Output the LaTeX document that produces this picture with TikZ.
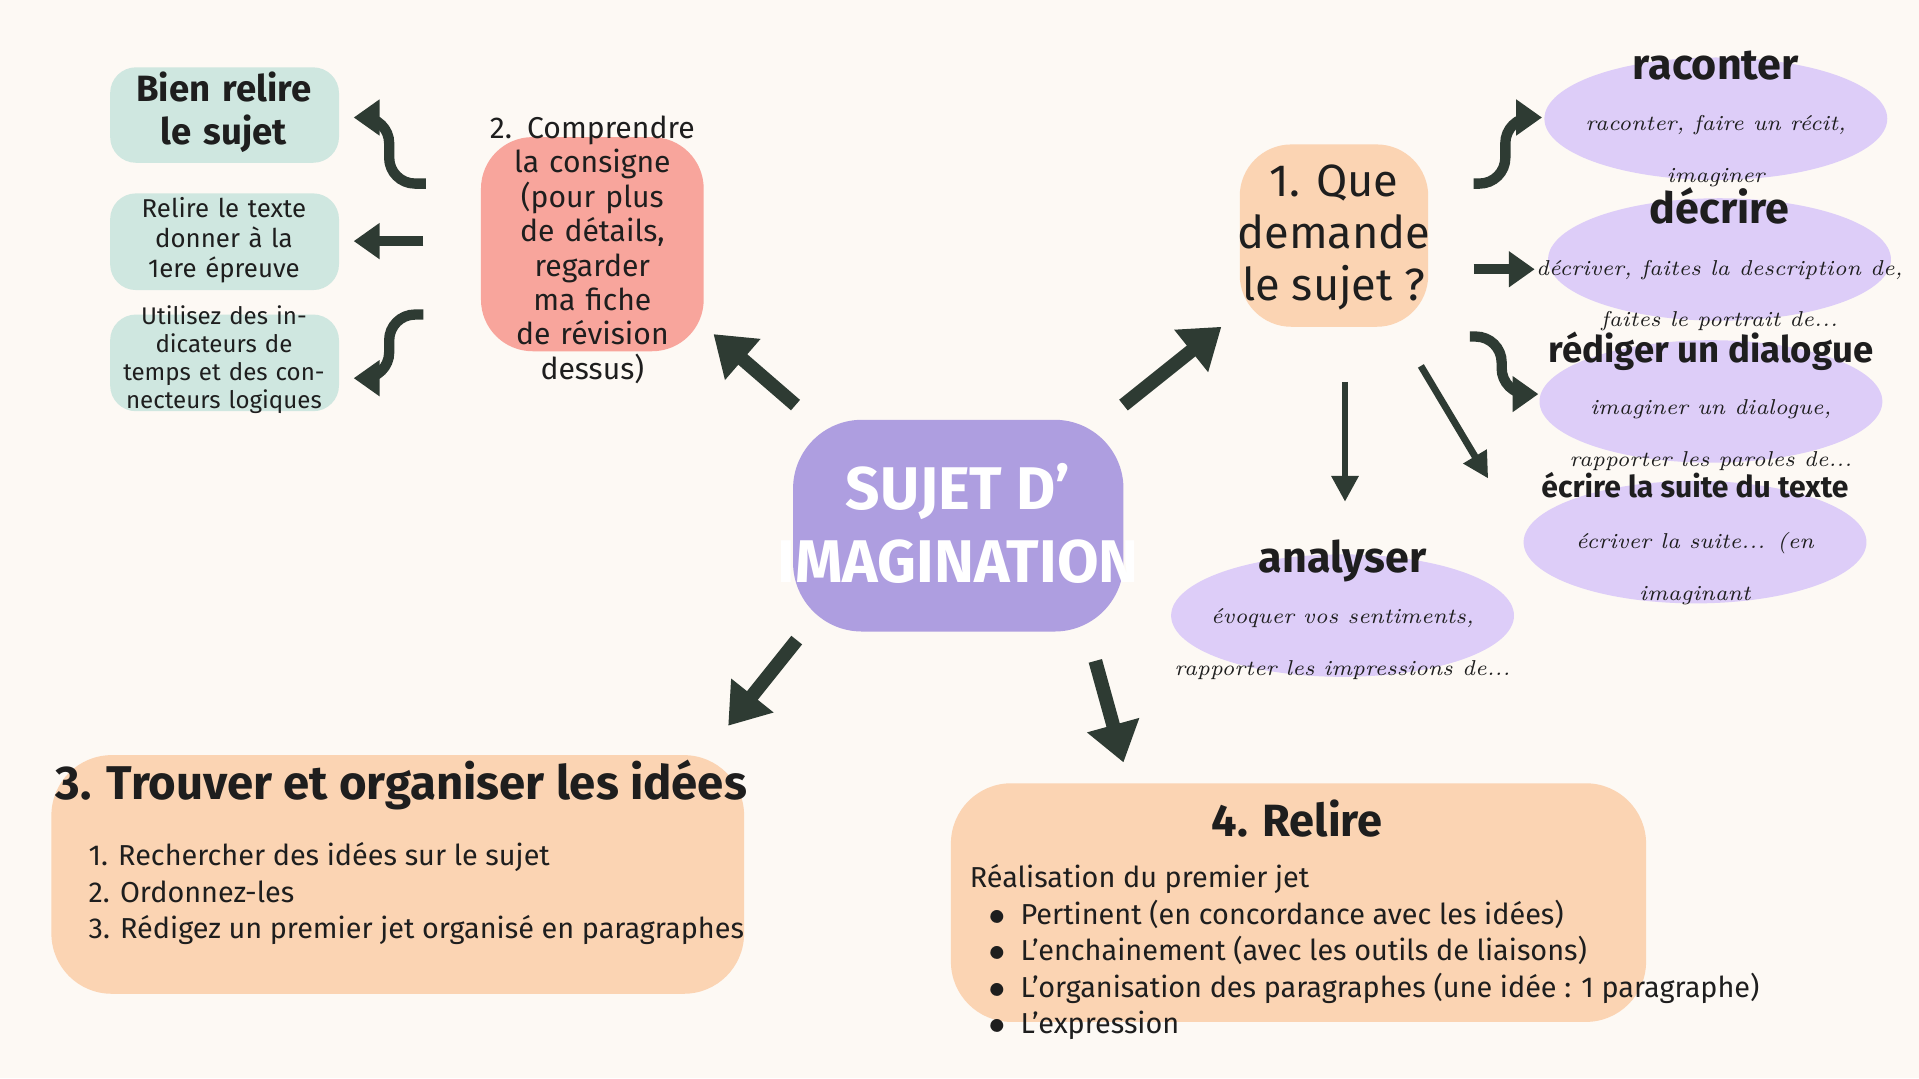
\documentclass[tikz,border=0pt]{standalone}
\usepackage{fontspec}
\setmainfont{Fira Sans}
\newfontfamily\myscript{Latin Modern Roman}
\usetikzlibrary{arrows.meta,shapes.geometric}
\definecolor{bg}{HTML}{FDF9F4}
\definecolor{teal}{HTML}{CFE7E0}
\definecolor{redb}{HTML}{F8A59C}
\definecolor{oran}{HTML}{FBD4B3}
\definecolor{purp}{HTML}{AE9EE0}
\definecolor{lav}{HTML}{DDCDF8}
\definecolor{ink}{HTML}{2E3B33}
\definecolor{txt}{HTML}{1E1E1E}
\tikzset{
 box/.style={align=center, text=txt, inner sep=1pt},
 etext/.style={align=center, text=txt, inner sep=0pt},
 big/.style={draw=ink, line width=3.2pt, -{Triangle[length=9pt,width=12pt]}},
 small/.style={draw=ink, line width=2.4pt, rounded corners=6pt, -{Triangle[length=6pt,width=8pt]}},
 thin/.style={draw=ink, line width=1.6pt, -{Triangle[length=6pt,width=6pt]}},
}
\newcommand{\ehead}[2]{{\fontsize{#1}{#1}\selectfont\bfseries #2}}
\newcommand{\esub}[1]{{\myscript\itshape\fontsize{5}{6}\selectfont #1}}
\begin{document}
\begin{tikzpicture}[x=0.01cm,y=-0.01cm]
\fill[bg] (0,0) rectangle (1568,881);
\useasboundingbox (0,0) rectangle (1568,881);
% teal boxes
\fill[teal, rounded corners=6pt] (90,55) rectangle (277,133);
\node[box, text width=1.6cm, font=\fontsize{8.5}{10}\selectfont\bfseries] (t1) at (183,92) {Bien relire le sujet};
\fill[teal, rounded corners=6pt] (90,158) rectangle (277,237);
\node[box, text width=1.8cm, font=\fontsize{6}{7}\selectfont] (t2) at (183,196) {Relire le texte donner à la 1ere épreuve};
\fill[teal, rounded corners=6pt] (90,257) rectangle (277,336);
\node[box, text width=1.8cm, font=\fontsize{5.6}{6.5}\selectfont] (t3) at (183,294) {Utilisez des indicateurs de temps et des connecteurs logiques};
% red box
\fill[redb, rounded corners=12pt] (393,112) rectangle (575,287);
\node[box, text width=1.8cm, font=\fontsize{7}{8}\selectfont] (r) at (484,204) {2. Comprendre la consigne (pour plus de détails, regarder ma fiche de révision dessus)};
% center
\fill[purp, rounded corners=16pt] (648,343) rectangle (918,516);
\node[box, text=white, font=\fontsize{14}{17}\selectfont\bfseries] (c) at (783,428) {SUJET D'\\IMAGINATION};
% orange 1
\fill[oran, rounded corners=12pt] (1013,118) rectangle (1167,267);
\node[box, font=\fontsize{10.5}{12}\selectfont] (q) at (1090,194) {1. Que\\demande\\le sujet ?};
% ellipses
\fill[lav] (1402,97) ellipse [x radius=1.4cm, y radius=0.5cm];
\node[etext] (e1) at (1402,97) {\ehead{10}{raconter}\\\esub{raconter, faire un récit,}\\\esub{imaginer}};
\fill[lav] (1405,212) ellipse [x radius=1.4cm, y radius=0.5cm];
\node[etext] (e2) at (1405,212) {\ehead{10}{décrire}\\\esub{décriver, faites la description de,}\\\esub{faites le portrait de...}};
\fill[lav] (1398,328) ellipse [x radius=1.4cm, y radius=0.5cm];
\node[etext] (e3) at (1398,328) {\ehead{8.5}{rédiger un dialogue}\\\esub{imaginer un dialogue,}\\\esub{rapporter les paroles de...}};
\fill[lav] (1385,443) ellipse [x radius=1.4cm, y radius=0.5cm];
\node[etext] (e4) at (1385,440) {\ehead{7}{écrire la suite du texte}\\\esub{écriver la suite... (en}\\\esub{imaginant}};
\fill[lav] (1097,503) ellipse [x radius=1.4cm, y radius=0.5cm];
\node[etext] (e5) at (1097,498) {\ehead{10}{analyser}\\\esub{évoquer vos sentiments,}\\\esub{rapporter les impressions de...}};
% box 3
\fill[oran, rounded corners=14pt] (42,617) rectangle (608,812);
\node[font=\fontsize{11}{13}\selectfont\bfseries, text=txt] (b3) at (328,641) {3. Trouver et organiser les idées};
\node[anchor=north west, align=left, font=\fontsize{6.7}{8.5}\selectfont, text=txt] (b3t) at (60,676) {1. Rechercher des idées sur le sujet\\2. Ordonnez-les\\3. Rédigez un premier jet organisé en paragraphes};
% box 4
\fill[oran, rounded corners=14pt] (777,640) rectangle (1345,835);
\node[font=\fontsize{10.5}{12}\selectfont\bfseries, text=txt] (b4) at (1060,669) {4. Relire};
\node[anchor=north west, align=left, font=\fontsize{6.7}{8.5}\selectfont, text=txt] (b4t) at (780,694) {Réalisation du premier jet\\
\hspace*{0.15cm}$\bullet$\hspace{0.12cm}Pertinent (en concordance avec les idées)\\
\hspace*{0.15cm}$\bullet$\hspace{0.12cm}L'enchainement (avec les outils de liaisons)\\
\hspace*{0.15cm}$\bullet$\hspace{0.12cm}L'organisation des paragraphes (une idée : 1 paragraphe)\\
\hspace*{0.15cm}$\bullet$\hspace{0.12cm}L'expression};
% coordinates for arrows
\coordinate (a1s) at (650,331); \coordinate (a1e) at (583,273);
\coordinate (a2s) at (918,331); \coordinate (a2e) at (998,267);
\coordinate (a3s) at (651,523); \coordinate (a3e) at (595,593);
\coordinate (a4s) at (895,540); \coordinate (a4e) at (918,623);
\draw[big] (a1s) -- (a1e);
\draw[big] (a2s) -- (a2e);
\draw[big] (a3s) -- (a3e);
\draw[big] (a4s) -- (a4e);
\coordinate (l1s) at (348,150); \coordinate (l1e) at (289,96);
\coordinate (l2s) at (346,197); \coordinate (l2e) at (289,197);
\coordinate (l3s) at (346,257); \coordinate (l3e) at (289,309);
\draw[small] (l1s) -- (318,150) -- (318,96) -- (l1e);
\draw[small] (l2s) -- (l2e);
\draw[small] (l3s) -- (318,257) -- (318,309) -- (l3e);
\coordinate (r1s) at (1204,150); \coordinate (r1e) at (1260,96);
\coordinate (r2s) at (1204,220); \coordinate (r2e) at (1254,220);
\coordinate (r3s) at (1201,275); \coordinate (r3e) at (1257,322);
\draw[small] (r1s) -- (1230,150) -- (1230,96) -- (r1e);
\draw[small] (r2s) -- (r2e);
\draw[small] (r3s) -- (1227,275) -- (1227,322) -- (r3e);
\coordinate (d1s) at (1099,312); \coordinate (d1e) at (1099,410);
\coordinate (d2s) at (1161,299); \coordinate (d2e) at (1216,391);
\draw[thin] (d1s) -- (d1e);
\draw[thin] (d2s) -- (d2e);
\end{tikzpicture}
\end{document}
